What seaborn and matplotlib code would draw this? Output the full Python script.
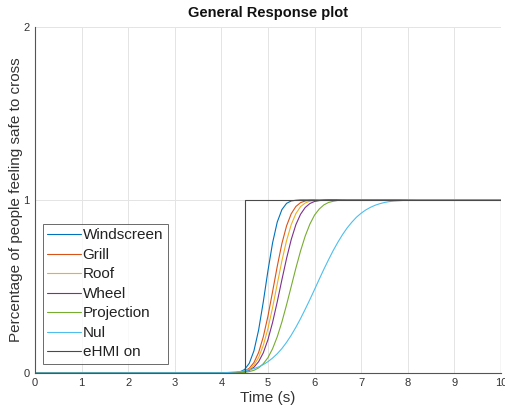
import numpy as np
import pandas as pd
import matplotlib
matplotlib.use("Agg")
import matplotlib.pyplot as plt
import seaborn as sns

# Time axis (s): a coarse start, 0.1 s steps through the response, then the end
time_s = [0.0] + [round(4.0 + 0.1 * i, 1) for i in range(43)] + [10.0]

# Share of participants feeling safe to cross, one list per eHMI condition
windscreen = [0, 0.000, 0.000, 0.000, 0.002, 0.006, 0.020, 0.056, 0.128, 0.248, 0.410,
              0.590, 0.752, 0.872, 0.944, 0.980, 0.994, 0.998, 1.000, 1, 1,
              1, 1, 1, 1, 1, 1, 1, 1, 1, 1,
              1, 1, 1, 1, 1, 1, 1, 1, 1, 1,
              1, 1, 1, 1]
grill = [0, 0.000, 0.000, 0.000, 0.001, 0.004, 0.011, 0.027, 0.060, 0.118, 0.208,
         0.328, 0.470, 0.616, 0.748, 0.850, 0.920, 0.962, 0.984, 0.994, 0.998,
         0.999, 1, 1, 1, 1, 1, 1, 1, 1, 1,
         1, 1, 1, 1, 1, 1, 1, 1, 1, 1,
         1, 1, 1, 1]
roof = [0, 0.000, 0.000, 0.000, 0.001, 0.003, 0.009, 0.021, 0.046, 0.089, 0.159,
        0.256, 0.378, 0.514, 0.648, 0.765, 0.857, 0.921, 0.961, 0.982, 0.993,
        0.997, 0.999, 1, 1, 1, 1, 1, 1, 1, 1,
        1, 1, 1, 1, 1, 1, 1, 1, 1, 1,
        1, 1, 1, 1]
wheel = [0, 0.000, 0.000, 0.000, 0.001, 0.002, 0.007, 0.015, 0.033, 0.065, 0.116,
         0.192, 0.292, 0.411, 0.539, 0.662, 0.771, 0.857, 0.917, 0.956, 0.979,
         0.991, 0.996, 0.999, 1, 1, 1, 1, 1, 1, 1,
         1, 1, 1, 1, 1, 1, 1, 1, 1, 1,
         1, 1, 1, 1]
projection = [0, 0.000, 0.000, 0.000, 0.001, 0.001, 0.003, 0.008, 0.015, 0.029, 0.053,
              0.088, 0.140, 0.209, 0.295, 0.394, 0.500, 0.606, 0.705, 0.791, 0.860,
              0.912, 0.947, 0.971, 0.985, 0.992, 0.997, 0.999, 1, 1, 1,
              1, 1, 1, 1, 1, 1, 1, 1, 1, 1,
              1, 1, 1, 1]
nul = [0, 0.001, 0.002, 0.004, 0.006, 0.008, 0.012, 0.018, 0.025, 0.035, 0.048,
       0.065, 0.086, 0.111, 0.141, 0.177, 0.218, 0.264, 0.314, 0.368, 0.424,
       0.482, 0.541, 0.599, 0.654, 0.707, 0.755, 0.799, 0.838, 0.871, 0.900,
       0.923, 0.942, 0.957, 0.969, 0.978, 0.985, 0.990, 0.993, 0.995, 0.997,
       0.998, 0.999, 1.000, 1]

# eHMI activation window (step signal)
ehmi_time = [0.0, 4.5, 4.5, 10.0, 10.0]
ehmi_on = [0, 0, 1, 1, 0]

labels = ["Windscreen", "Grill", "Roof", "Wheel", "Projection", "Nul", "eHMI on"]
colors = ["#0072BD", "#D95319", "#EDB120", "#7E2F8E", "#77AC30", "#4DBEEE", "#4a4a4a"]

frames = []
for name, vals in zip(labels[:6], [windscreen, grill, roof, wheel, projection, nul]):
    frames.append(pd.DataFrame({"t": time_s, "p": vals, "cond": name}))
frames.append(pd.DataFrame({"t": ehmi_time, "p": ehmi_on, "cond": "eHMI on"}))
df = pd.concat(frames, ignore_index=True)

sns.set_theme(style="white")
plt.rcParams["font.family"] = ["Liberation Sans", "DejaVu Sans"]

fig = plt.figure(figsize=(5.06, 4.13), dpi=100)
ax = fig.add_axes([0.069, 0.097, 0.921, 0.838])

sns.lineplot(data=df, x="t", y="p", hue="cond", hue_order=labels,
             palette=colors, estimator=None, sort=False, linewidth=0.8, ax=ax)

ax.set_xlim(0, 10)
ax.set_ylim(0, 2)
ax.set_xticks(range(0, 11))
ax.set_yticks([0, 1, 2])
ax.grid(True, color="#e4e4e4", linewidth=0.7)
ax.set_axisbelow(True)
for side in ("top", "right"):
    ax.spines[side].set_visible(False)
for side in ("left", "bottom"):
    ax.spines[side].set_color("#555555")
    ax.spines[side].set_linewidth(0.8)
ax.tick_params(direction="in", length=3, width=0.7, colors="#555555",
               labelsize=8, labelcolor="#333333", pad=4)

ax.set_title("General Response plot", fontsize=10.5, fontweight="bold", color="#111111", pad=7)
ax.set_xlabel("Time (s)", fontsize=11, color="#333333", labelpad=2)
ax.set_ylabel("Percentage of people feeling safe to cross", fontsize=11,
              color="#333333", labelpad=0)

leg = ax.legend(loc="lower left", bbox_to_anchor=(0.017, 0.026), fontsize=11,
                frameon=True, fancybox=False, edgecolor="#444444",
                handlelength=2.2, handletextpad=0.1, labelspacing=0.36,
                borderpad=0.3, borderaxespad=0)
leg.get_frame().set_linewidth(0.7)
for txt in leg.get_texts():
    txt.set_color("#222222")

fig.savefig("out.png", dpi=100, facecolor="white")
